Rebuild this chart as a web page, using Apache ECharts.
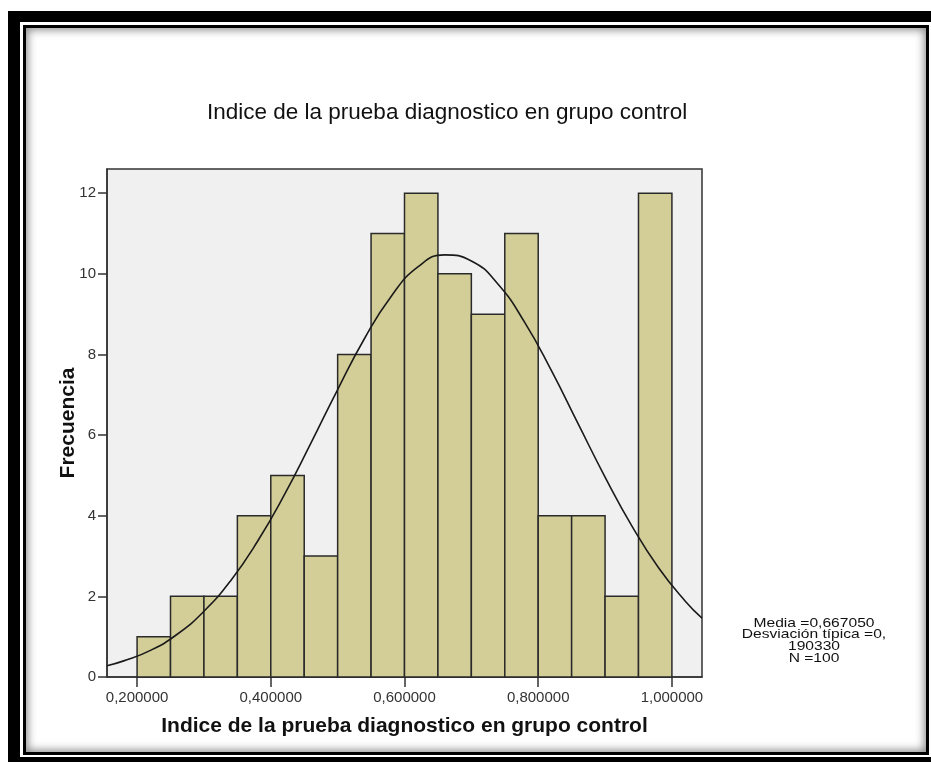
<!DOCTYPE html>
<html>
<head>
<meta charset="utf-8">
<script src="https://cdn.jsdelivr.net/npm/echarts@6/dist/echarts.min.js"></script>
<style>
    html, body { margin: 0; padding: 0; background: #fff; overflow: hidden; }
    #frameOuter {
        position: absolute; left: 8px; top: 11px; width: 940px; height: 751px;
        border-left: 12px solid #000; border-top: 11px solid #000; border-bottom: 5px solid #000;
        box-sizing: border-box;
    }
    #frameInner {
        position: absolute; left: 23px; top: 25px; width: 906px; height: 730px;
        border: 3px solid #000; box-sizing: border-box;
        box-shadow: inset 0 0 9px 2px rgba(0, 0, 0, 0.45);
    }
    #chart { position: absolute; left: 0; top: 0; width: 931px; height: 762px; }
</style>
</head>
<body>
<div id="frameOuter"></div>
<div id="frameInner"></div>
<div id="chart"></div>
<script>
    // datos del histograma (intervalos de 0,05)
    const binLow = [0.20, 0.25, 0.30, 0.35, 0.40, 0.45, 0.50, 0.55, 0.60, 0.65, 0.70, 0.75, 0.80, 0.85, 0.90, 0.95];
    const binHigh = [0.25, 0.30, 0.35, 0.40, 0.45, 0.50, 0.55, 0.60, 0.65, 0.70, 0.75, 0.80, 0.85, 0.90, 0.95, 1.00];
    const frecuencia = [1, 2, 2, 4, 5, 3, 8, 11, 12, 10, 9, 11, 4, 4, 2, 12];

    // curva normal
    const curveX = [0.155, 0.18, 0.22, 0.26, 0.30, 0.34, 0.38, 0.42, 0.46, 0.50, 0.54, 0.58, 0.62, 0.66,
        0.70, 0.74, 0.78, 0.82, 0.86, 0.90, 0.94, 0.98, 1.02, 1.045];
    const curveY = [0.28, 0.40, 0.66, 1.06, 1.63, 2.39, 3.36, 4.51, 5.80, 7.13, 8.39, 9.44, 10.17, 10.47,
        10.32, 9.74, 8.79, 7.59, 6.27, 4.96, 3.75, 2.71, 1.88, 1.46];

    const xTicks = [0.2, 0.4, 0.6, 0.8, 1.0];
    const yTicks = [0, 2, 4, 6, 8, 10, 12];
    const statsLines = ['Media =0,667050', 'Desviación típica =0,', '190330', 'N =100'];

    const titulo = 'Indice de la prueba diagnostico en grupo control';
    const fontFamily = '"Liberation Sans", Arial, sans-serif';

    const barData = frecuencia.map((f, i) => [binLow[i], binHigh[i], f]);
    const curveData = curveX.map((x, i) => [x, curveY[i]]);

    const chart = echarts.init(document.getElementById('chart'), null, { renderer: 'canvas' });

    // cuadro de estadisticos, texto algo estrecho como en SPSS
    const statsText = statsLines.map((line, i) => ({
        type: 'text',
        x: 814,
        y: 623 + i * 11.8,
        scaleX: 1.2,
        style: {
            text: line,
            align: 'center',
            textAlign: 'center',
            verticalAlign: 'middle',
            fontSize: 13,
            fill: '#111',
            fontFamily
        }
    }));

    const option = {
        animation: false,
        textStyle: { fontFamily },
        title: {
            text: titulo,
            left: 207,
            top: 101,
            padding: 0,
            textStyle: { fontSize: 22.5, fontWeight: 'normal', color: '#111', fontFamily }
        },
        grid: {
            left: 107, top: 169, width: 595, height: 508,
            show: true, backgroundColor: '#f0f0f0', borderColor: '#333', borderWidth: 1.5
        },
        xAxis: {
            type: 'value',
            min: 0.155,
            max: 1.045,
            name: titulo,
            nameLocation: 'middle',
            nameGap: 39,
            nameMoveOverlap: false,
            nameTextStyle: { fontSize: 21, fontWeight: 'bold', color: '#111', fontFamily },
            axisLine: { show: true, lineStyle: { color: '#333', width: 1.5 } },
            axisTick: { show: true, length: 10, customValues: xTicks, lineStyle: { color: '#333', width: 1.5 } },
            axisLabel: {
                customValues: xTicks,
                margin: 13,
                fontSize: 15,
                color: '#333',
                formatter: v => v.toFixed(6).replace('.', ',')
            },
            splitLine: { show: false }
        },
        yAxis: {
            type: 'value',
            min: 0,
            max: 12.6,
            name: 'Frecuencia',
            nameLocation: 'middle',
            nameGap: 28,
            nameMoveOverlap: false,
            nameTextStyle: { fontSize: 21, fontWeight: 'bold', color: '#111', fontFamily },
            axisLine: { show: true, lineStyle: { color: '#333', width: 1.5 } },
            axisTick: { show: true, length: 9, customValues: yTicks, lineStyle: { color: '#333', width: 1.5 } },
            axisLabel: { customValues: yTicks, margin: 11, fontSize: 15, color: '#333' },
            splitLine: { show: false }
        },
        graphic: statsText,
        series: [{
            type: 'custom',
            renderItem: (params, api) => {
                const p0 = api.coord([api.value(0), api.value(2)]);
                const p1 = api.coord([api.value(1), 0]);
                return {
                    type: 'rect',
                    shape: { x: p0[0], y: p0[1], width: p1[0] - p0[0], height: p1[1] - p0[1] },
                    style: { fill: '#d3ce98', stroke: '#2a2a2a', lineWidth: 1.5 }
                };
            },
            encode: { x: [0, 1], y: 2 },
            data: barData,
            z: 2
        }, {
            type: 'line',
            data: curveData,
            smooth: true,
            showSymbol: false,
            lineStyle: { color: '#1a1a1a', width: 1.6 },
            z: 3
        }]
    };

    chart.setOption(option);
</script>
</body>
</html>
